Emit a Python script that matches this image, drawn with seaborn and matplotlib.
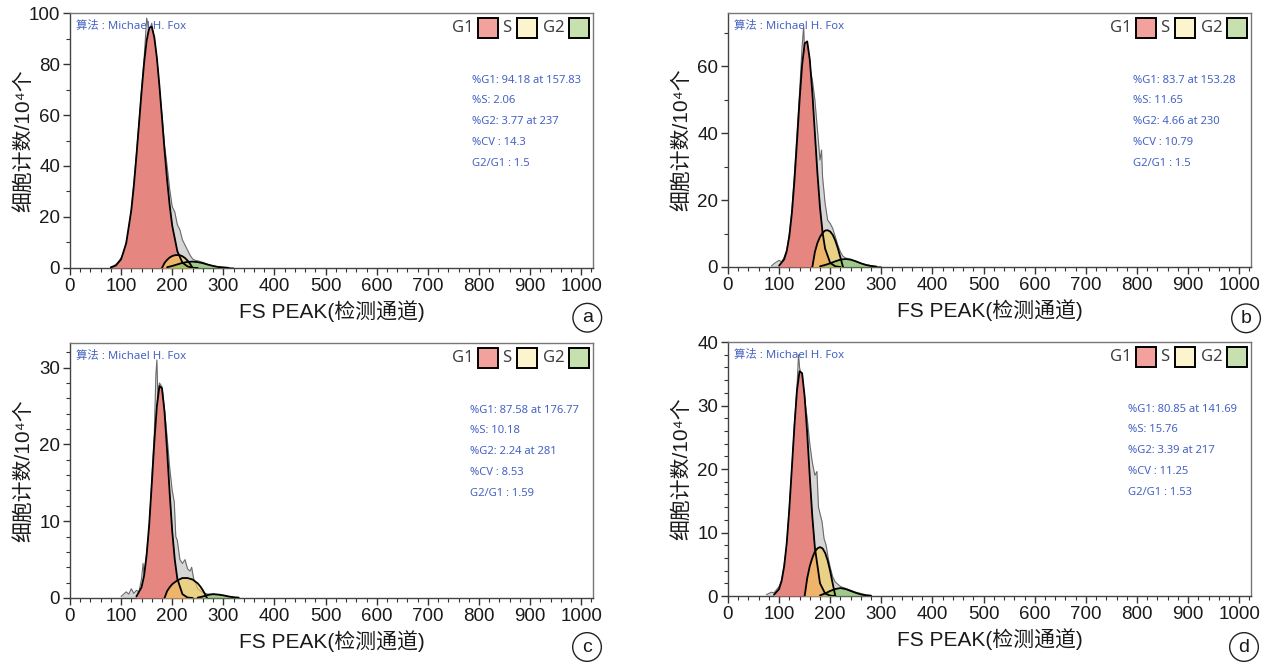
import seaborn as sns
import matplotlib.pyplot as plt
import matplotlib.transforms as mtransforms
from matplotlib.patches import Rectangle
from matplotlib.ticker import MultipleLocator

# ---- values (x = channel, y = count / 10^4) ----
# panel a
a_ch_raw = [80, 85, 90, 95, 100, 105, 110, 115, 120, 125, 130, 135, 140, 145, 150, 155, 160, 165, 170, 175,
            180, 185, 190, 195, 200, 205, 210, 215, 220, 225, 230, 235, 240, 245, 250, 255, 260, 265, 270, 275,
            280, 285, 290, 295, 300, 310, 320]
a_raw = [0.5, 0.8, 1.5, 2.5, 4, 6, 10, 15, 23, 33, 45, 57, 70, 82, 98, 93, 96, 88, 82, 70,
         60, 48, 40, 31, 24, 22, 17, 15, 11, 9, 7, 5, 3.5, 3, 2.8, 2.5, 2.2, 1.8, 1.4, 1.1,
         0.8, 0.6, 0.5, 0.4, 0.3, 0.2, 0.1]
a_ch_g1 = [80, 90, 100, 110, 120, 125, 130, 135, 140, 145, 150, 155, 160, 165, 170, 175, 180, 185, 190, 195,
           200, 210, 220, 230, 240, 250]
a_g1 = [0.2, 1.0, 3.4, 9.7, 22.7, 32.4, 43.9, 56.4, 69.0, 80.4, 89.2, 94.2, 94.6, 90.5, 82.4, 71.4, 58.9, 46.2,
        34.6, 24.6, 16.6, 6.6, 2.1, 0.6, 0.1, 0]
a_ch_s = [180, 185, 190, 195, 200, 205, 210, 215, 220, 225, 230, 235, 240]
a_s = [0, 2.0, 3.2, 4.1, 4.7, 5.0, 5.1, 5.0, 4.6, 3.9, 2.9, 1.6, 0]
a_ch_g2 = [190, 200, 210, 220, 230, 240, 250, 260, 270, 280, 290, 300, 310]
a_g2 = [0.3, 0.8, 1.4, 2.0, 2.4, 2.5, 2.3, 1.9, 1.3, 0.8, 0.4, 0.2, 0.05]
a_stats = ["%G1: 94.18 at 157.83", "%S: 2.06", "%G2: 3.77 at 237", "%CV : 14.3", "G2/G1 : 1.5"]

# panel b
b_ch_raw = [85, 90, 95, 100, 105, 110, 115, 120, 125, 130, 135, 140, 145, 148, 150, 155, 160, 165, 170, 175,
            180, 183, 185, 190, 195, 200, 205, 210, 215, 220, 225, 230, 240, 250, 260, 270, 280, 290, 300]
b_raw = [0.3, 1, 1.5, 2, 1.5, 3, 5, 10, 17, 28, 40, 52, 66, 72, 64, 66, 60, 56, 50, 41,
         32, 35, 27, 19, 14, 13, 11.5, 9, 6.5, 4.5, 3.2, 2.7, 2.3, 1.7, 1.1, 0.7, 0.4, 0.2, 0.1]
b_ch_g1 = [100, 110, 115, 120, 125, 130, 135, 140, 145, 150, 155, 160, 165, 170, 175, 180, 185, 190, 200,
           210, 220]
b_g1 = [0.4, 2.3, 4.8, 9.2, 16.1, 25.8, 37.5, 49.8, 60.4, 66.9, 67.5, 62.1, 52.2, 40.0, 28.0, 17.8, 10.4, 5.5,
        1.2, 0.2, 0]
b_ch_s = [165, 170, 175, 180, 185, 190, 195, 200, 205, 210, 215, 220, 225]
b_s = [0, 4.5, 7.2, 9.0, 10.2, 10.9, 11.0, 10.6, 9.6, 7.9, 5.6, 2.8, 0]
b_ch_g2 = [180, 190, 200, 210, 220, 230, 240, 250, 260, 270, 280, 290]
b_g2 = [0.2, 0.6, 1.1, 1.7, 2.2, 2.4, 2.2, 1.7, 1.1, 0.6, 0.3, 0.1]
b_stats = ["%G1: 83.7 at 153.28", "%S: 11.65", "%G2: 4.66 at 230", "%CV : 10.79", "G2/G1 : 1.5"]

# panel c
c_ch_raw = [100, 110, 115, 120, 125, 130, 135, 140, 143, 145, 150, 155, 160, 165, 168, 170, 172, 175, 180, 185,
            190, 195, 200, 204, 207, 210, 215, 220, 225, 230, 235, 238, 242, 250, 260, 270, 280, 290, 300, 310,
            320]
c_raw = [0.2, 0.8, 0.5, 1.2, 0.6, 1, 0.8, 2.5, 4.5, 3, 6, 9, 15.5, 21.5, 29, 31, 26, 28, 27.5, 24.5,
         21, 17, 14, 12.5, 8, 7.5, 5, 4.5, 5, 3.8, 3.5, 4, 2.5, 1.2, 0.7, 0.5, 0.5, 0.4, 0.3, 0.2,
         0.1]
c_ch_g1 = [130, 140, 145, 150, 155, 160, 165, 170, 175, 180, 185, 190, 195, 200, 205, 210, 220, 230, 240]
c_g1 = [0.2, 1.4, 2.9, 5.6, 9.6, 14.8, 20.3, 25.0, 27.6, 27.3, 24.2, 19.2, 13.7, 8.7, 5.0, 2.5, 0.5, 0.06, 0]
c_ch_s = [185, 190, 195, 200, 210, 220, 230, 240, 250, 255, 260, 265, 268]
c_s = [0, 0.9, 1.4, 1.8, 2.3, 2.6, 2.6, 2.4, 1.9, 1.5, 1.0, 0.4, 0]
c_ch_g2 = [250, 260, 270, 280, 290, 300, 310, 320, 330]
c_g2 = [0.05, 0.2, 0.4, 0.5, 0.45, 0.35, 0.2, 0.1, 0.05]
c_stats = ["%G1: 87.58 at 176.77", "%S: 10.18", "%G2: 2.24 at 281", "%CV : 8.53", "G2/G1 : 1.59"]

# panel d
d_ch_raw = [75, 80, 85, 90, 95, 100, 105, 110, 115, 120, 125, 130, 135, 138, 140, 145, 150, 155, 160, 165,
            170, 174, 177, 180, 184, 188, 192, 196, 200, 205, 210, 220, 230, 240, 250, 260, 270, 280]
d_raw = [0.2, 0.4, 0.6, 0.5, 1, 1.5, 2.5, 5, 8, 14, 20, 27, 33, 38, 36, 34, 31, 28, 24, 21,
         19, 19.6, 14, 13, 11.7, 9, 8, 6, 4.5, 3, 2.2, 1.5, 1.2, 0.9, 0.6, 0.4, 0.2, 0.1]
d_ch_g1 = [90, 100, 105, 110, 115, 120, 125, 130, 135, 140, 145, 150, 155, 160, 165, 170, 180, 190, 200, 210]
d_g1 = [0.2, 1.1, 2.4, 4.7, 8.4, 13.7, 20.2, 26.8, 32.4, 35.4, 35.1, 31.4, 25.6, 18.8, 12.5, 7.6, 2.0, 0.4,
        0.05, 0]
d_ch_s = [150, 155, 160, 165, 170, 175, 180, 185, 190, 195, 200, 205, 210]
d_s = [0, 2.8, 4.7, 6.0, 7.0, 7.5, 7.7, 7.5, 6.8, 5.6, 3.9, 1.9, 0]
d_ch_g2 = [180, 190, 200, 210, 220, 230, 240, 250, 260, 270, 280]
d_g2 = [0.1, 0.4, 0.8, 1.1, 1.25, 1.1, 0.8, 0.5, 0.25, 0.1, 0.03]
d_stats = ["%G1: 80.85 at 141.69", "%S: 15.76", "%G2: 3.39 at 217", "%CV : 11.25", "G2/G1 : 1.53"]

panel_tags = ["a", "b", "c", "d"]
x_tick_labels = [str(v) for v in range(0, 1001, 100)]

# layout (figure fractions) and per-panel axis settings
panels = [
    dict(tag="a", rect=[0.0550, 0.5964, 0.4112, 0.3840], ymax=100, ymaj=20, ymin=10,
         raw=(a_ch_raw, a_raw), g1=(a_ch_g1, a_g1), s=(a_ch_s, a_s), g2=(a_ch_g2, a_g2),
         stats=a_stats, stats_dx=-121, tag_xy=(0.4617, 0.5215)),
    dict(tag="b", rect=[0.5723, 0.5979, 0.4112, 0.3825], ymax=76, ymaj=20, ymin=10,
         raw=(b_ch_raw, b_raw), g1=(b_ch_g1, b_g1), s=(b_ch_s, b_s), g2=(b_ch_g2, b_g2),
         stats=b_stats, stats_dx=-118, tag_xy=(0.9796, 0.5206)),
    dict(tag="c", rect=[0.0550, 0.0994, 0.4112, 0.3840], ymax=33.2, ymaj=10, ymin=2,
         raw=(c_ch_raw, c_raw), g1=(c_ch_g1, c_g1), s=(c_ch_s, c_s), g2=(c_ch_g2, c_g2),
         stats=c_stats, stats_dx=-123, tag_xy=(0.4615, 0.0256)),
    dict(tag="d", rect=[0.5723, 0.1024, 0.4112, 0.3825], ymax=40, ymaj=10, ymin=2,
         raw=(d_ch_raw, d_raw), g1=(d_ch_g1, d_g1), s=(d_ch_s, d_s), g2=(d_ch_g2, d_g2),
         stats=d_stats, stats_dx=-123, tag_xy=(0.9780, 0.0256)),
]

sns.set_theme(style="ticks")
plt.rcParams["font.family"] = ["Liberation Sans", "Noto Sans CJK SC", "DejaVu Sans"]
plt.rcParams["axes.linewidth"] = 1.0

BLUE = "#4563c4"
SMALL_FONT = ["Noto Sans", "Noto Sans CJK SC", "DejaVu Sans"]
fig = plt.figure(figsize=(12.72, 6.64), dpi=100)


def px(ax, fx, fy):
    # pixel offsets measured from an axes corner
    return mtransforms.IdentityTransform() + mtransforms.ScaledTranslation(fx, fy, ax.transAxes)


for p in panels:
    ax = fig.add_axes(p["rect"])

    rx, ry = p["raw"]
    ax.fill_between(rx, ry, color="#d6d6d6", lw=0, zorder=1)
    sns.lineplot(x=rx, y=ry, ax=ax, color="#6a6a6a", lw=0.8, zorder=2)

    ax.fill_between(*p["g1"], color="#e8807b", alpha=0.93, lw=0, zorder=3)
    ax.fill_between(*p["s"], color="#f4cf5c", alpha=0.64, lw=0, zorder=4)
    ax.fill_between(*p["g2"], color="#7cc35a", alpha=0.6, lw=0, zorder=5)
    for key in ["g1", "s", "g2"]:
        sns.lineplot(x=p[key][0], y=p[key][1], ax=ax, color="black", lw=1.3, zorder=6)

    ax.set_xlim(0, 1023)
    ax.set_ylim(0, p["ymax"])
    ax.xaxis.set_major_locator(MultipleLocator(100))
    ax.xaxis.set_minor_locator(MultipleLocator(20))
    ax.set_xticks(range(0, 1001, 100), x_tick_labels)
    ax.yaxis.set_major_locator(MultipleLocator(p["ymaj"]))
    ax.yaxis.set_minor_locator(MultipleLocator(p["ymin"]))
    ax.tick_params(which="major", direction="out", length=5, width=1, labelsize=13.5,
                   color="#333333", labelcolor="#1a1a1a", pad=2)
    ax.tick_params(which="minor", direction="out", length=3, width=0.8, color="#333333")
    for side, sp in ax.spines.items():
        sp.set_color("#444444" if side in ("left", "bottom") else "#777777")
        sp.set_linewidth(1.0)

    ax.set_xlabel("FS PEAK(检测通道)", fontsize=15, color="#1a1a1a")
    ax.xaxis.set_label_coords(0.5, -0.125)
    ax.set_ylabel("细胞计数/10⁴个", fontsize=15, color="#1a1a1a")
    ax.yaxis.set_label_coords(-0.071, 0.5)

    # algorithm note, top-left
    ax.text(6.5, -13, "算法 : Michael H. Fox", transform=px(ax, 0, 1), ha="left", va="center",
            fontsize=8.2, color=BLUE, family=SMALL_FONT, zorder=8)

    # G1 / S / G2 key, top-right
    key_items = [("G1", -141.5, "#f3a19c", -115.5), ("S", -90.5, "#fbf4cc", -76.5),
                 ("G2", -50.5, "#c7e1ae", -24.5)]
    for label, tx, fc, bx in key_items:
        ax.text(tx, -15, label, transform=px(ax, 1, 1), ha="left", va="center",
                fontsize=12, color="#404040", family=SMALL_FONT, zorder=8)
        ax.add_patch(Rectangle((bx, -25), 20, 20, transform=px(ax, 1, 1), fc=fc, ec="black",
                               lw=1.4, zorder=8, clip_on=False))

    # fit statistics
    for i, line in enumerate(p["stats"]):
        ax.text(p["stats_dx"], -67 - 20.8 * i, line, transform=px(ax, 1, 1), ha="left",
                va="center", fontsize=8.1, color=BLUE, family=SMALL_FONT, zorder=8)

    fig.text(*p["tag_xy"], p["tag"], ha="center", va="center", fontsize=14, color="#1a1a1a",
             bbox=dict(boxstyle="circle,pad=0.3", fc="white", ec="#222222", lw=1.0))

fig.savefig("out.png", dpi=100)
